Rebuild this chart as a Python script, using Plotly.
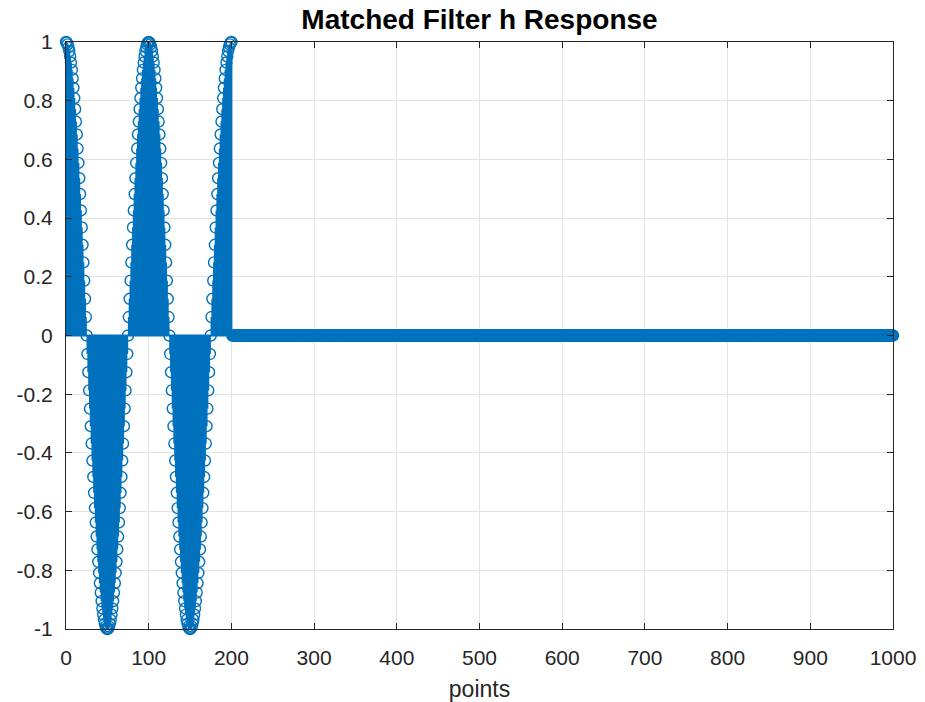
import plotly.graph_objects as go

# Data: samples 0..200 (one cosine-shaped burst), then zeros up to 1000
h_burst = [
    1.000, 0.998, 0.992, 0.982, 0.969, 0.951, 0.930, 0.905, 0.876, 0.844, 0.809, 0.771, 0.729,
    0.685, 0.637, 0.588, 0.536, 0.482, 0.426, 0.368, 0.309, 0.249, 0.187, 0.125, 0.063, 0.000,
    -0.063, -0.125, -0.187, -0.249, -0.309, -0.368, -0.426, -0.482, -0.536, -0.588, -0.637, -0.685,
    -0.729, -0.771, -0.809, -0.844, -0.876, -0.905, -0.930, -0.951, -0.969, -0.982, -0.992, -0.998, -1.000,
    -0.998, -0.992, -0.982, -0.969, -0.951, -0.930, -0.905, -0.876, -0.844, -0.809, -0.771, -0.729,
    -0.685, -0.637, -0.588, -0.536, -0.482, -0.426, -0.368, -0.309, -0.249, -0.187, -0.125, -0.063, 0.000,
    0.063, 0.125, 0.187, 0.249, 0.309, 0.368, 0.426, 0.482, 0.536, 0.588, 0.637, 0.685,
    0.729, 0.771, 0.809, 0.844, 0.876, 0.905, 0.930, 0.951, 0.969, 0.982, 0.992, 0.998, 1.000,
    0.998, 0.992, 0.982, 0.969, 0.951, 0.930, 0.905, 0.876, 0.844, 0.809, 0.771, 0.729,
    0.685, 0.637, 0.588, 0.536, 0.482, 0.426, 0.368, 0.309, 0.249, 0.187, 0.125, 0.063, 0.000,
    -0.063, -0.125, -0.187, -0.249, -0.309, -0.368, -0.426, -0.482, -0.536, -0.588, -0.637, -0.685,
    -0.729, -0.771, -0.809, -0.844, -0.876, -0.905, -0.930, -0.951, -0.969, -0.982, -0.992, -0.998, -1.000,
    -0.998, -0.992, -0.982, -0.969, -0.951, -0.930, -0.905, -0.876, -0.844, -0.809, -0.771, -0.729,
    -0.685, -0.637, -0.588, -0.536, -0.482, -0.426, -0.368, -0.309, -0.249, -0.187, -0.125, -0.063, 0.000,
    0.063, 0.125, 0.187, 0.249, 0.309, 0.368, 0.426, 0.482, 0.536, 0.588, 0.637, 0.685,
    0.729, 0.771, 0.809, 0.844, 0.876, 0.905, 0.930, 0.951, 0.969, 0.982, 0.992, 0.998, 1.000,
]
h_tail = [0.0] * 800
h_values = h_burst + h_tail
points = list(range(len(h_values)))

x_ticks = [0, 100, 200, 300, 400, 500, 600, 700, 800, 900, 1000]
y_ticks = [-1, -0.8, -0.6, -0.4, -0.2, 0, 0.2, 0.4, 0.6, 0.8, 1]
y_tick_labels = ["-1", "-0.8", "-0.6", "-0.4", "-0.2", "0", "0.2", "0.4", "0.6", "0.8", "1"]

title_text = "Matched Filter h Response"
x_label = "points"

color = "#0072BD"
FONT = "Liberation Sans, Arial"

# stems
sx, sy = [], []
for xi, yi in zip(points, h_values):
    sx += [xi, xi, None]
    sy += [0, yi, None]

fig = go.Figure()
fig.add_trace(go.Scatter(x=[points[0], points[-1]], y=[0, 0], mode="lines",
                         line=dict(color=color, width=2), hoverinfo="skip", showlegend=False))
fig.add_trace(go.Scatter(x=sx, y=sy, mode="lines", line=dict(color=color, width=2),
                         hoverinfo="skip", showlegend=False))
fig.add_trace(go.Scatter(x=points, y=h_values, mode="markers",
                         marker=dict(symbol="circle-open", size=11, color=color, line=dict(width=1.4, color=color)),
                         cliponaxis=False, showlegend=False))

axis_common = dict(showline=True, linecolor="#262626", linewidth=1, mirror="ticks",
                   ticks="inside", ticklen=6, tickcolor="#262626", automargin=False,
                   showgrid=True, gridcolor="#e3e3e3", gridwidth=1, zeroline=False,
                   tickfont=dict(family=FONT, size=21, color="#262626"))

fig.update_layout(
    width=925, height=702,
    margin=dict(l=66, r=32, t=42, b=73),
    paper_bgcolor="white", plot_bgcolor="white",
    title=dict(text="<b>" + title_text + "</b>", x=0.5, xref="paper", xanchor="center",
               y=1 - 19 / 702, yanchor="middle",
               font=dict(family=FONT, size=28, color="#000000")),
    xaxis=dict(range=[0, 1000], tickvals=x_ticks, ticktext=[str(v) for v in x_ticks],
               ticklabelstandoff=10,
               title=dict(text=x_label, standoff=14,
                          font=dict(family=FONT, size=23, color="#262626")),
               **axis_common),
    yaxis=dict(range=[-1, 1], tickvals=y_ticks, ticktext=y_tick_labels,
               ticklabelstandoff=8, **axis_common),
)

fig.write_html("out.html")
